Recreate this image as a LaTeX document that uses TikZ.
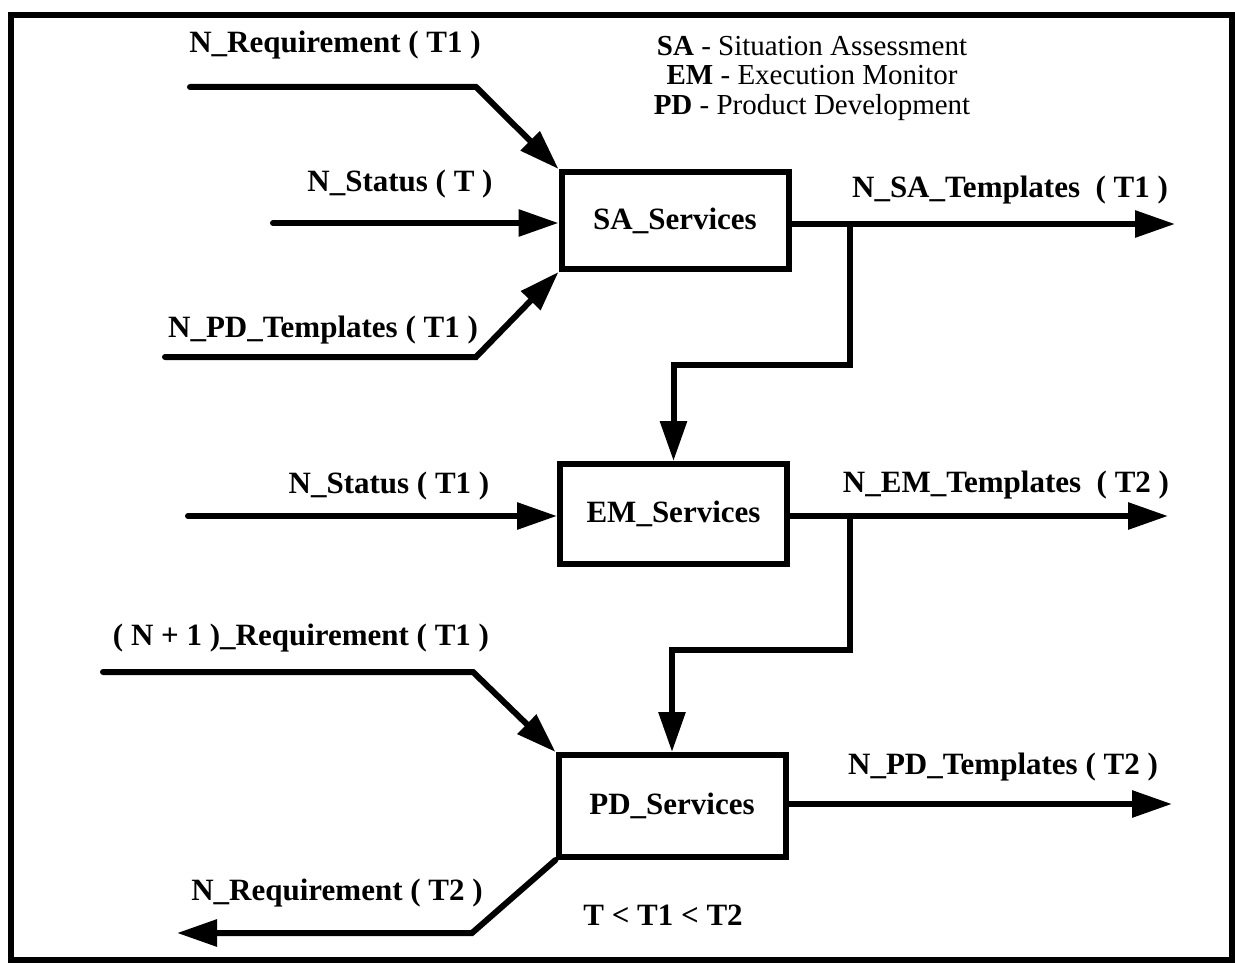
\documentclass[tikz,border=0pt]{standalone}
\usepackage{fontspec}
\setmainfont{Liberation Serif}
\usetikzlibrary{arrows.meta}
\begin{document}
\begin{tikzpicture}[x=1pt,y=-1pt,
  link/.style={line width=6pt,line cap=round},
  flow/.style={link,-{Triangle[length=40pt,width=26pt]}},
  svcbox/.style={draw,line width=6pt,minimum width=227pt,inner sep=0pt,
    font=\fontsize{31}{36}\selectfont\bfseries},
  lbl/.style={anchor=base,inner sep=0pt,font=\fontsize{31}{36}\selectfont\bfseries},
  keytext/.style={align=center,inner sep=0pt,font=\fontsize{29}{29.5}\selectfont}]
\useasboundingbox (0,0) rectangle (1235,963);
% outer frame
\draw[line width=6pt] (11,15) rectangle (1232,960);

% service boxes
\node[svcbox,minimum height=97pt]  (sa) at (675,220.5) {SA\_Services};
\node[svcbox,minimum height=100pt] (em) at (673.5,514) {EM\_Services};
\node[svcbox,minimum height=102pt] (pd) at (672,806) {PD\_Services};

% legend
\node[keytext] (key) at (812,78) {\textbf{SA} - Situation Assessment\\
  \textbf{EM} - Execution Monitor\\ \textbf{PD} - Product Development};

% inputs of SA_Services
\coordinate (rq0) at (190,87);
\coordinate (rq1) at (476,87);
\draw[flow] (rq0) -- (rq1) -- (sa.north west);
\coordinate (st0) at (273,223);
\draw[flow] (st0) -- (st0 -| sa.west);
\coordinate (pt0) at (165,357);
\coordinate (pt1) at (476,357);
\draw[flow] (pt0) -- (pt1) -- (sa.south west);
\node[lbl] (lrq) at (335,53) {N\_Requirement ( T1 )};
\node[lbl] (lst) at (400,192) {N\_Status ( T )};
\node[lbl] (lpt) at (323,337) {N\_PD\_Templates ( T1 )};

% output of SA_Services, branching down to EM_Services
\coordinate (sao) at (1175,224);
\coordinate (sab) at (850,224);
\coordinate (sak) at (850,365);
\draw[flow] (sao -| sa.east) -- (sao);
\draw[flow] (sab) -- (sak) -| (em.north);
\node[lbl] (lsao) at (1010,197) {N\_SA\_Templates\ \ ( T1 )};

% input of EM_Services
\coordinate (st1) at (188,516);
\draw[flow] (st1) -- (st1 -| em.west);
\node[lbl] (lst1) at (389,493) {N\_Status ( T1 )};

% output of EM_Services, branching down to PD_Services
\coordinate (emo) at (1168,516);
\coordinate (emb) at (850,516);
\coordinate (emk) at (850,650);
\draw[flow] (emo -| em.east) -- (emo);
\draw[flow] (emb) -- (emk) -| (pd.north);
\node[lbl] (lemo) at (1006,492) {N\_EM\_Templates\ \ ( T2 )};

% inputs and outputs of PD_Services
\coordinate (nr0) at (103,672);
\coordinate (nr1) at (473,672);
\draw[flow] (nr0) -- (nr1) -- (pd.north west);
\node[lbl] (lnr) at (301,645) {( N + 1 )\_Requirement ( T1 )};
\coordinate (pdo) at (1172,804);
\draw[flow] (pdo -| pd.east) -- (pdo);
\node[lbl] (lpdo) at (1003,774) {N\_PD\_Templates ( T2 )};
\coordinate (rb1) at (472,933);
\coordinate (rb0) at (177,933);
\draw[flow] (pd.south west) -- (rb1) -- (rb0);
\node[lbl] (lrb) at (337,900) {N\_Requirement ( T2 )};

% time ordering
\node[lbl] (ord) at (663,925) {T < T1 < T2};
\end{tikzpicture}
\end{document}
